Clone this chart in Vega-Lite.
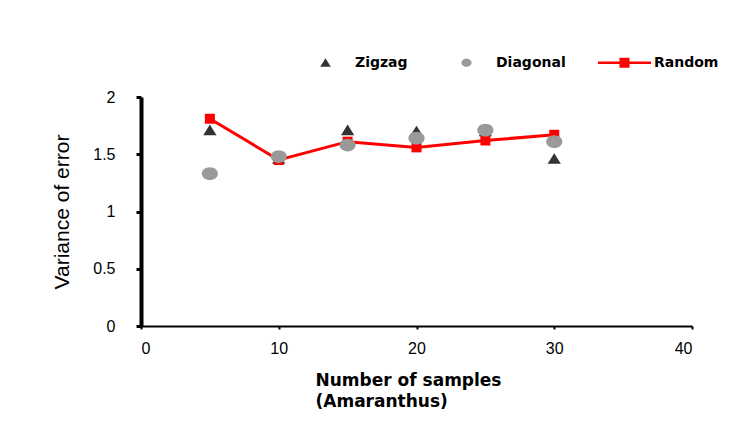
{
  "$schema": "https://vega.github.io/schema/vega-lite/v6.json",
  "autosize": {"type": "none"},
  "padding": {"left": 141, "top": 97, "right": 52, "bottom": 104},
  "width": 551,
  "height": 229,
  "background": "white",
  "config": {
    "view": {"stroke": null},
    "font": "Liberation Sans",
    "axis": {"grid": false, "domainColor": "#000", "tickColor": "#000", "labelColor": "#000", "titleColor": "#000", "labelFont": "Liberation Sans", "titleFont": "Liberation Sans"}
  },
  "data": {
    "values": [
      {"n": 5, "series": "Zigzag", "v": 1.71},
      {"n": 10, "series": "Zigzag", "v": 1.46},
      {"n": 15, "series": "Zigzag", "v": 1.71},
      {"n": 20, "series": "Zigzag", "v": 1.70},
      {"n": 25, "series": "Zigzag", "v": 1.70},
      {"n": 30, "series": "Zigzag", "v": 1.46},
      {"n": 5, "series": "Random", "v": 1.81},
      {"n": 10, "series": "Random", "v": 1.45},
      {"n": 15, "series": "Random", "v": 1.61},
      {"n": 20, "series": "Random", "v": 1.56},
      {"n": 25, "series": "Random", "v": 1.62},
      {"n": 30, "series": "Random", "v": 1.67},
      {"n": 5, "series": "Diagonal", "v": 1.33},
      {"n": 10, "series": "Diagonal", "v": 1.48},
      {"n": 15, "series": "Diagonal", "v": 1.58},
      {"n": 20, "series": "Diagonal", "v": 1.64},
      {"n": 25, "series": "Diagonal", "v": 1.71},
      {"n": 30, "series": "Diagonal", "v": 1.61}
    ]
  },
  "encoding": {
    "x": {
      "field": "n", "type": "quantitative",
      "scale": {"domain": [0, 40], "nice": false},
      "axis": {
        "values": [0, 10, 20, 30, 40],
        "domainWidth": 2, "tickSize": 3, "tickWidth": 2,
        "labelFontSize": 16, "labelPadding": 11,
        "title": ["Number of samples", "(Amaranthus)"],
        "titleFont": "DejaVu Sans", "titleFontSize": 17, "titleFontWeight": "bold",
        "titlePadding": 16, "titleLineHeight": 21, "titleAlign": "left", "titleX": 174
      }
    },
    "y": {
      "field": "v", "type": "quantitative",
      "scale": {"domain": [0, 2], "nice": false},
      "axis": {
        "values": [0, 0.5, 1, 1.5, 2], "format": "~g",
        "domainWidth": 4, "tickSize": 5, "tickWidth": 3,
        "labelFontSize": 16, "labelPadding": 21,
        "title": "Variance of error",
        "titleFontSize": 21, "titleFontWeight": "normal", "titlePadding": 20
      }
    },
    "color": {
      "field": "series", "type": "nominal",
      "scale": {"domain": ["Zigzag", "Diagonal", "Random"], "range": ["#333333", "#999999", "#ff0000"]},
      "legend": {
        "orient": "none", "legendX": 157, "legendY": -62,
        "direction": "horizontal", "title": null,
        "labelFont": "DejaVu Sans", "labelFontSize": 14, "labelFontWeight": "bold", "labelColor": "#000",
        "symbolSize": 2809, "columnPadding": 31, "labelOffset": 2
      }
    },
    "shape": {
      "field": "series", "type": "nominal",
      "scale": {
        "domain": ["Zigzag", "Diagonal", "Random"],
        "range": [
          "M0,-0.17L0.2,0.15L-0.2,0.15Z",
          "M-0.19,0A0.19,0.15 0 1,0 0.19,0A0.19,0.15 0 1,0 -0.19,0Z",
          "M-1,-0.05H-0.19V-0.19H0.19V-0.05H1V0.05H0.19V0.19H-0.19V0.05H-1Z"
        ]
      }
    }
  },
  "layer": [
    {
      "transform": [{"filter": "datum.series === 'Random'"}],
      "mark": {"type": "line", "color": "#ff0000", "strokeWidth": 3},
      "encoding": {"color": {"value": "#ff0000"}, "shape": null}
    },
    {
      "transform": [{"filter": "datum.series === 'Zigzag'"}],
      "mark": {"type": "point", "filled": true, "opacity": 1, "size": 4400}
    },
    {
      "transform": [{"filter": "datum.series === 'Random'"}],
      "mark": {"type": "point", "filled": true, "opacity": 1, "size": 100},
      "encoding": {"shape": {"value": "square"}}
    },
    {
      "transform": [{"filter": "datum.series === 'Diagonal'"}],
      "mark": {"type": "point", "filled": true, "opacity": 1, "size": 7191}
    }
  ]
}
